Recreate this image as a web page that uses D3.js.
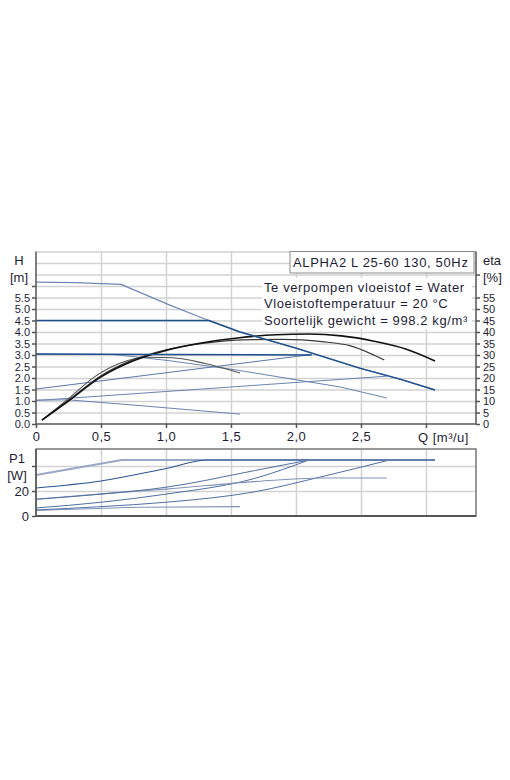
<!DOCTYPE html>
<html>
<head>
<meta charset="utf-8">
<title>ALPHA2 L 25-60 130</title>
<style>
body { margin: 0; background: #fff; }
svg text { font-family: "Liberation Sans", Arial, sans-serif; fill: #1d1d35; }
.grid line { stroke: #d2d2d2; stroke-width: 1.5; }
.grid path { display: none; }
.axis path, .axis line { stroke: #555; stroke-width: 1.5; }
</style>
</head>
<body>
<svg id="chart" width="510" height="780"></svg>
<script src="https://d3js.org/d3.v7.min.js"></script>
<script>
// ticks
const qTicks = [0, 0.5, 1.0, 1.5, 2.0, 2.5, 3.0];
const qLabels = ["0", "0,5", "1,0", "1,5", "2,0", "2,5", ""];
const hTicks = [0, 0.5, 1.0, 1.5, 2.0, 2.5, 3.0, 3.5, 4.0, 4.5, 5.0, 5.5, 6.0];
const hLabels = ["0.0", "0.5", "1.0", "1.5", "2.0", "2.5", "3.0", "3.5", "4.0", "4.5", "5.0", "5.5", ""];
const etaTicks = [0, 5, 10, 15, 20, 25, 30, 35, 40, 45, 50, 55, 65];
const etaLabels = ["0", "5", "10", "15", "20", "25", "30", "35", "40", "45", "50", "55", ""];
const pTicks = [0, 20, 40];
const pLabels = ["0", "20", ""];

const infoLines = ["Te verpompen vloeistof = Water", "Vloeistoftemperatuur = 20 °C", "Soortelijk gewicht = 998.2 kg/m³"];

// H curves [Q m3/h, H m]
const hMax = [[0, 6.17], [0.3, 6.15], [0.654, 6.07], [1.03, 5.17], [1.285, 4.6], [1.57, 4.0], [2.0, 3.3], [2.49, 2.43], [2.8, 1.95], [3.07, 1.48]];
const hCp45 = [[0, 4.5], [1.33, 4.5], [1.57, 4.0], [2.0, 3.3], [2.49, 2.43], [2.8, 1.95], [3.07, 1.48]];
const hCp30 = [[0, 3.04], [1.0, 3.02], [2.12, 3.0]];
const hPp2 = [[0, 1.52], [2.12, 3.02]];
const hPp1 = [[0, 1.02], [2.7, 2.08]];
const hC2 = [[0, 3.04], [0.6, 3.02], [1.03, 2.75], [1.54, 2.35], [2.34, 1.61], [2.7, 1.13]];
const hC1 = [[0, 1.04], [0.25, 1.05], [0.8, 0.8], [1.57, 0.43]];

// eta curves [Q, %]
const etaIII = [[0.046, 1.7], [0.25, 10], [0.5, 20.5], [0.75, 27.5], [1.0, 32], [1.25, 35], [1.55, 37.4], [1.85, 38.8], [2.1, 39.1], [2.35, 38.3], [2.6, 36], [2.85, 32.5], [3.07, 27.4]];
const etaII = [[0.046, 1.7], [0.25, 10.3], [0.5, 21], [0.75, 28], [1.0, 32.3], [1.3, 35.2], [1.6, 36.6], [1.9, 36.8], [2.2, 35.8], [2.42, 34], [2.68, 27.8]];
const etaI = [[0.046, 1.7], [0.25, 11], [0.45, 20.5], [0.65, 26.5], [0.85, 29], [1.05, 28.8], [1.3, 26.3], [1.57, 22.2]];

// P1 curves [Q, W]
const pMax = [[0, 32.8], [0.66, 44.8], [3.07, 44.8]];
const pCp45 = [[0, 22.4], [0.5, 28], [1.0, 38], [1.32, 44.8], [3.07, 44.8]];
const pCp30 = [[0, 13.4], [0.5, 17.5], [1.0, 23], [1.68, 36.3], [2.1, 44.8]];
const pPp2 = [[0, 6.4], [0.5, 11], [1.0, 17.5], [1.68, 30], [2.1, 44.8]];
const pC2 = [[0, 13.4], [0.6, 18.5], [1.0, 21.5], [1.68, 27.5], [2.2, 30.4], [2.7, 30.4]];
const pPp1 = [[0, 4.8], [0.5, 7.5], [1.0, 11], [1.68, 19.3], [2.2, 31.5], [2.72, 44.8]];
const pC1 = [[0, 4.4], [0.4, 5.8], [0.8, 7.0], [1.57, 7.5]];

const svg = d3.select("#chart");
svg.append("rect").attr("width", 510).attr("height", 780).attr("fill", "#fff");

const x = d3.scaleLinear().domain([0, 3.385]).range([36, 476]);
const yH = d3.scaleLinear().domain([0, 7.5]).range([424, 251.5]);
const yEta = d3.scaleLinear().domain([0, 75]).range([424, 251.5]);
const yP = d3.scaleLinear().domain([0, 53.6]).range([516, 449]);

// ---- top chart grid
svg.append("g").attr("class", "grid")
    .attr("transform", "translate(0,424)")
    .call(d3.axisBottom(x).tickValues([0.5, 1, 1.5, 2, 2.5, 3]).tickSize(-(424 - 251.5)).tickFormat(""));
svg.append("g").attr("class", "grid")
    .attr("transform", "translate(36,0)")
    .call(d3.axisLeft(yH).tickValues(d3.range(0.5, 7.51, 0.5)).tickSize(-(476 - 36)).tickFormat(""));

// info box
svg.append("rect").attr("x", 290).attr("y", 251.5).attr("width", 184).attr("height", 21.5)
    .attr("fill", "#fff").attr("stroke", "#8a8a8a");
svg.append("text").attr("x", 293).attr("y", 266.5).attr("font-size", 13).attr("letter-spacing", 0.65)
    .text("ALPHA2 L 25-60 130, 50Hz");
svg.append("rect").attr("x", 262).attr("y", 278).attr("width", 210).attr("height", 51).attr("fill", "#fff");
svg.selectAll(".info").data(infoLines).join("text")
    .attr("x", 264).attr("y", (d, i) => 291.5 + i * 16.7)
    .attr("font-size", 13).attr("letter-spacing", 0.6)
    .text(d => d);

// ---- curves
const lineH = d3.line().x(d => x(d[0])).y(d => yH(d[1]));
const lineEta = d3.line().x(d => x(d[0])).y(d => yEta(d[1])).curve(d3.curveMonotoneX);
const lineP = d3.line().x(d => x(d[0])).y(d => yP(d[1])).curve(d3.curveMonotoneX);
const lineP0 = d3.line().x(d => x(d[0])).y(d => yP(d[1]));

function draw(g, line, data, color, w) {
    g.append("path").datum(data)
        .attr("fill", "none")
        .attr("stroke", color)
        .attr("stroke-width", w)
        .attr("stroke-linejoin", "round")
        .attr("d", line);
}

const gTop = svg.append("g");
draw(gTop, lineH, hC1, "#6a84b0", 1);
draw(gTop, lineH, hPp1, "#6a84b0", 1);
draw(gTop, lineH, hC2, "#6a84b0", 1);
draw(gTop, lineH, hPp2, "#5a78aa", 1);
draw(gTop, lineEta, etaI, "#555", 1.1);
draw(gTop, lineEta, etaII, "#3a3a3a", 1.2);
draw(gTop, lineEta, etaIII, "#111", 1.6);
draw(gTop, lineH, hMax, "#6f88b5", 1.2);
draw(gTop, lineH, hCp30, "#1f4f8f", 1.5);
draw(gTop, lineH, hCp45, "#1f4f8f", 1.5);

// ---- top axes
const axL = svg.append("g").attr("class", "axis")
    .attr("transform", "translate(36,0)")
    .call(d3.axisLeft(yH).tickValues(hTicks).tickSize(4).tickSizeOuter(0).tickPadding(2)
        .tickFormat((d, i) => hLabels[i]));
axL.select(".domain").attr("d", "M0," + yH(7.5) + "V" + yH(0));
axL.selectAll("text").attr("font-size", 11).attr("fill", "#1d1d35");

const axR = svg.append("g").attr("class", "axis")
    .attr("transform", "translate(476,0)")
    .call(d3.axisRight(yEta).tickValues(etaTicks).tickSize(4).tickSizeOuter(0).tickPadding(3)
        .tickFormat((d, i) => etaLabels[i]));
axR.select(".domain").attr("d", "M0," + yEta(75) + "V" + yEta(0));
axR.selectAll("text").attr("font-size", 11).attr("fill", "#1d1d35");

const axB = svg.append("g").attr("class", "axis")
    .attr("transform", "translate(0,424)")
    .call(d3.axisBottom(x).tickValues(qTicks).tickSize(4).tickSizeOuter(0).tickPadding(4)
        .tickFormat((d, i) => qLabels[i]));
axB.select(".domain").attr("d", "M36,0H476").attr("stroke-width", 2.2).attr("stroke", "#4a4a4a");
axB.selectAll("text").attr("font-size", 13).attr("letter-spacing", 0.5).attr("fill", "#1d1d35");

svg.append("text").attr("x", 418).attr("y", 442).attr("font-size", 13).attr("letter-spacing", 0.5).text("Q [m³/u]");
svg.append("text").attr("x", 19).attr("y", 265).attr("font-size", 13).attr("text-anchor", "middle").text("H");
svg.append("text").attr("x", 19).attr("y", 282).attr("font-size", 13).attr("text-anchor", "middle").text("[m]");
svg.append("text").attr("x", 483).attr("y", 265).attr("font-size", 13).text("eta");
svg.append("text").attr("x", 483).attr("y", 282).attr("font-size", 13).text("[%]");

// ---- bottom chart
svg.append("g").attr("class", "grid")
    .attr("transform", "translate(0,516)")
    .call(d3.axisBottom(x).tickValues([0.5, 1, 1.5, 2, 2.5, 3]).tickSize(-(516 - 449)).tickFormat(""));
svg.append("g").attr("class", "grid")
    .attr("transform", "translate(36,0)")
    .call(d3.axisLeft(yP).tickValues([20, 40]).tickSize(-(476 - 36)).tickFormat(""));

const gBot = svg.append("g");
draw(gBot, lineP, pC1, "#8293b8", 1.1);
draw(gBot, lineP, pPp1, "#4f6fa3", 1);
draw(gBot, lineP, pPp2, "#4f6fa3", 1);
draw(gBot, lineP, pC2, "#8293b8", 1.1);
draw(gBot, lineP, pCp30, "#4f6fa3", 1);
draw(gBot, lineP0, pMax, "#9aa8c8", 2);
draw(gBot, lineP, pCp45, "#2a5592", 1.2);

svg.append("rect").attr("x", 36).attr("y", 449).attr("width", 440).attr("height", 67)
    .attr("fill", "none").attr("stroke", "#777").attr("stroke-width", 1.5);

const axP = svg.append("g").attr("class", "axis")
    .attr("transform", "translate(36,0)")
    .call(d3.axisLeft(yP).tickValues(pTicks).tickSize(4).tickSizeOuter(0).tickPadding(3)
        .tickFormat((d, i) => pLabels[i]));
axP.select(".domain").attr("d", "M0," + yP(53.6) + "V" + yP(0));
axP.selectAll("text").attr("font-size", 13).attr("fill", "#1d1d35");
svg.append("line").attr("x1", 36).attr("x2", 476).attr("y1", 516).attr("y2", 516)
    .attr("stroke", "#555").attr("stroke-width", 2);

svg.append("text").attr("x", 17).attr("y", 463).attr("font-size", 13).attr("text-anchor", "middle").text("P1");
svg.append("text").attr("x", 17).attr("y", 480).attr("font-size", 13).attr("text-anchor", "middle").text("[W]");
</script>
</body>
</html>
